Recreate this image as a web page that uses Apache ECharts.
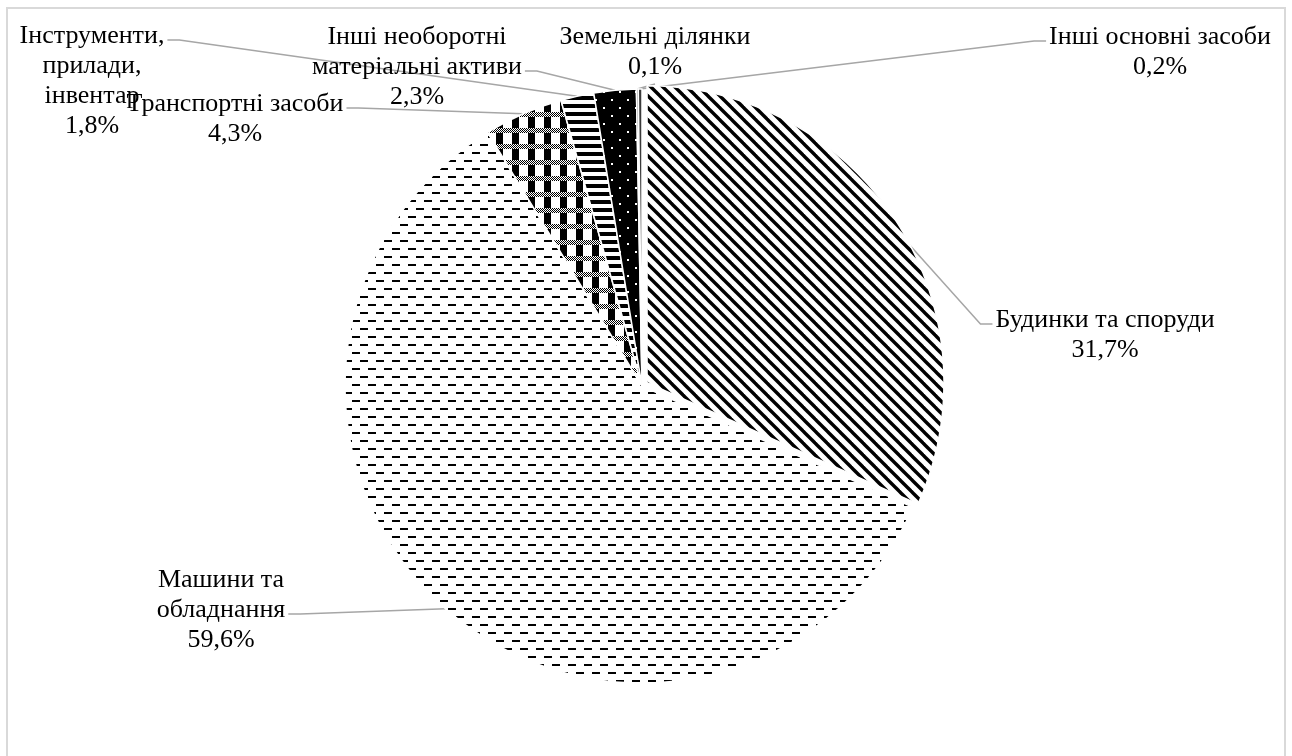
<!DOCTYPE html>
<html>
<head>
<meta charset="utf-8">
<title>Структура основних засобів</title>
<script src="https://cdn.jsdelivr.net/npm/echarts@6/dist/echarts.min.js"></script>
<style>
  html, body { margin: 0; padding: 0; background: #ffffff; }
  #chart { width: 1292px; height: 756px; }
</style>
</head>
<body>
<div id="chart"></div>
<script>
// Categories of fixed assets and their shares, %
const categories = [
  'Будинки та споруди',
  'Машини та обладнання',
  'Транспортні засоби',
  'Інструменти, прилади, інвентар',
  'Інші необоротні матеріальні активи',
  'Земельні ділянки',
  'Інші основні засоби'
];
const shares = [31.7, 59.6, 4.3, 1.8, 2.3, 0.1, 0.2];
// How each category name is broken into lines in its label
const labelLines = [
  ['Будинки та споруди'],
  ['Машини та', 'обладнання'],
  ['Транспортні засоби'],
  ['Інструменти,', 'прилади,', 'інвентар'],
  ['Інші необоротні', 'матеріальні активи'],
  ['Земельні ділянки'],
  ['Інші основні засоби']
];

// Label placement: centre x, top y, and the side the leader line attaches to
const LINE_H = 30;
const labelSpots = [
  { x: 1105, y: 305, side: 'left',  line: 0 },
  { x: 221,  y: 565, side: 'right', line: 1 },
  { x: 235,  y: 89,  side: 'right', line: 0 },
  { x: 92,   y: 21,  side: 'right', line: 0 },
  { x: 417,  y: 22,  side: 'right', line: 1 },
  { x: 655,  y: 22,  side: 'bottom' },
  { x: 1160, y: 22,  side: 'left',  line: 0 }
];

const CENTER = [642, 386];
const RADIUS = 297;
const EXPLODE = 6;           // the first slice is pulled out a little
const EXPLODED = 0;

// ---- monochrome fill patterns ----
function tile(w, h, draw, bg) {
  const c = document.createElement('canvas');
  c.width = w; c.height = h;
  const ctx = c.getContext('2d');
  ctx.fillStyle = bg || '#ffffff';
  ctx.fillRect(0, 0, w, h);
  ctx.fillStyle = '#000000';
  ctx.strokeStyle = '#000000';
  draw(ctx);
  return c;
}
const patDiagonal = tile(12, 12, ctx => {
  ctx.lineWidth = 3.4;
  for (let k = -1; k <= 1; k++) {
    ctx.beginPath();
    ctx.moveTo(k * 12 - 2, -2);
    ctx.lineTo(k * 12 + 14, 14);
    ctx.stroke();
  }
});
const patDashes = tile(16, 16, ctx => {
  ctx.fillRect(0, 0, 8, 2);
  ctx.fillRect(8, 8, 8, 2);
});
const patPlaid = tile(16, 16, ctx => {
  ctx.fillRect(0, 0, 7, 16);
  for (let yy = 0; yy < 5; yy++) {
    for (let xx = 0; xx < 16; xx++) {
      ctx.fillStyle = (xx + yy) % 2 === 0 ? '#000000' : '#ffffff';
      ctx.fillRect(xx, yy, 1, 1);
    }
  }
});
const patHStripes = tile(8, 8, ctx => {
  ctx.fillRect(0, 0, 8, 4);
});
const patDots = tile(16, 16, ctx => {
  ctx.fillStyle = '#ffffff';
  ctx.fillRect(3, 3, 2, 2);
  ctx.fillRect(11, 11, 2, 2);
}, '#000000');

const fills = [
  { image: patDiagonal, repeat: 'repeat' },
  { image: patDashes, repeat: 'repeat' },
  { image: patPlaid, repeat: 'repeat' },
  { image: patHStripes, repeat: 'repeat' },
  { image: patDots, repeat: 'repeat' },
  '#000000',
  '#3a3a3a'
];

function fmtShare(v) {
  return v.toFixed(1).replace('.', ',') + '%';
}

const total = shares.reduce((a, b) => a + b, 0);
let before = 0;
for (let i = 0; i < EXPLODED; i++) before += shares[i];
const midAngle = (before + shares[EXPLODED] / 2) / total * 2 * Math.PI; // clockwise from 12 o'clock
const explodedCenter = [
  CENTER[0] + EXPLODE * Math.sin(midAngle),
  CENTER[1] - EXPLODE * Math.cos(midAngle)
];

const hidden = { color: 'rgba(0,0,0,0)', borderWidth: 0 };

// main ring: every slice except the pulled-out one, plus all labels
const mainData = categories.map((name, i) => ({
  name: name,
  value: shares[i],
  itemStyle: i === EXPLODED ? hidden : { color: fills[i] },
  label: { formatter: labelLines[i].join('\n') + '\n' + fmtShare(shares[i]) }
}));
// pulled-out slice, drawn on a shifted centre
const explodedData = categories.map((name, i) => ({
  name: name,
  value: shares[i],
  itemStyle: i === EXPLODED ? { color: fills[i] } : hidden
}));

const textFont = "'Liberation Serif', 'Times New Roman', serif";

const chart = echarts.init(document.getElementById('chart'), null, { renderer: 'canvas' });

chart.setOption({
  backgroundColor: '#ffffff',
  animation: false,
  graphic: [{
    type: 'rect',
    silent: true,
    shape: { x: 7, y: 8, width: 1278, height: 800 },
    style: { fill: 'none', stroke: '#d9d9d9', lineWidth: 2 }
  }],
  series: [{
    type: 'pie',
    center: CENTER,
    radius: RADIUS,
    startAngle: 90,
    clockwise: true,
    avoidLabelOverlap: false,
    emphasis: { disabled: true },
    itemStyle: { borderColor: '#ffffff', borderWidth: 1.5 },
    label: {
      show: true,
      position: 'outside',
      color: '#000000',
      fontFamily: textFont,
      fontSize: 26,
      lineHeight: LINE_H,
      align: 'center'
    },
    labelLine: {
      show: true,
      length: 10,
      length2: 10,
      lineStyle: { color: '#a6a6a6', width: 1.5 }
    },
    labelLayout: function (params) {
      const spot = labelSpots[params.dataIndex];
      const w = params.labelRect.width;
      const h = params.labelRect.height;
      const edge = params.labelLinePoints ? params.labelLinePoints[0] : [spot.x, spot.y + h];
      let anchor, bend;
      if (spot.side === 'bottom') {
        anchor = [spot.x, spot.y + h + 2];
        bend = [spot.x, spot.y + h + 2];
      } else {
        const ay = spot.y + LINE_H * (spot.line + 0.5) + 4;
        if (spot.side === 'left') {
          const ax = spot.x - w / 2 - 3;
          anchor = [ax, ay];
          bend = [ax - 12, ay];
        } else {
          const ax = spot.x + w / 2 + 3;
          anchor = [ax, ay];
          bend = [ax + 12, ay];
        }
      }
      return {
        x: spot.x,
        y: spot.y,
        align: 'center',
        verticalAlign: 'top',
        labelLinePoints: [edge, bend, anchor]
      };
    },
    data: mainData
  }, {
    type: 'pie',
    center: explodedCenter,
    radius: RADIUS,
    startAngle: 90,
    clockwise: true,
    silent: true,
    emphasis: { disabled: true },
    itemStyle: { borderColor: '#ffffff', borderWidth: 1.5 },
    label: { show: false },
    labelLine: { show: false },
    data: explodedData
  }]
});
</script>
</body>
</html>
